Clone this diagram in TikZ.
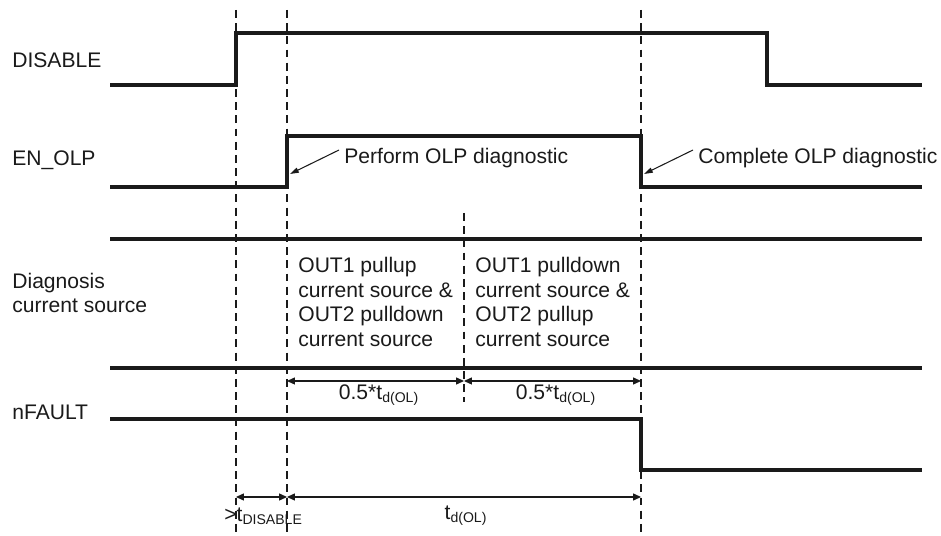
\documentclass[tikz,border=0pt]{standalone}
\usepackage{fontspec}
\setmainfont{Liberation Sans}
\usetikzlibrary{arrows.meta}
\definecolor{traceink}{HTML}{1A1A1A}

\begin{document}
\begin{tikzpicture}[
  x=0.02cm,
  y=-0.02cm,
  every node/.style={font=\fontsize{12}{14}\selectfont, traceink, inner sep=0pt},
  wave/.style={traceink, line width=2.1pt, line join=miter},
  marker/.style={traceink, line width=0.6pt, dash pattern=on 4.5pt off 3pt},
  dim/.style={traceink, line width=0.6pt,
              {Triangle[length=4.5pt,width=4pt]}-{Triangle[length=4.5pt,width=4pt]}},
  callout/.style={traceink, line width=0.6pt, -{Triangle[length=5pt,width=3pt]}},
  siglabel/.style={anchor=west, align=left},
  phase/.style={anchor=west, align=left}
]
  \useasboundingbox (0,0) rectangle (941,536);

  % ---- time markers ----
  \draw[marker] (236,10) -- (236,536);
  \draw[marker] (287,10) -- (287,536);
  \draw[marker] (641,10) -- (641,536);
  \draw[marker] (464,213) -- (464,402);

  % ---- signal names ----
  \node[siglabel] (disable) at (12,60)  {DISABLE};
  \node[siglabel] (enolp)   at (12,160) {EN\_OLP};
  \node[siglabel] (diag)    at (12,293) {Diagnosis\\current source};
  \node[siglabel] (nfault)  at (12,412) {nFAULT};

  % ---- waveforms ----
  \draw[wave] (110,85) -- (236,85) -- (236,33) -- (767,33) -- (767,85) -- (922,85);
  \draw[wave] (110,187) -- (287,187) -- (287,136) -- (641,136) -- (641,187) -- (922,187);
  \draw[wave] (110,239) -- (922,239);
  \draw[wave] (110,368) -- (922,368);
  \draw[wave] (110,419) -- (641,419) -- (641,470) -- (922,470);

  % ---- phases of the current source ----
  \node[phase] (phaseup)   at (298,302)
    {OUT1 pullup\\current source \&\\OUT2 pulldown\\current source};
  \node[phase] (phasedown) at (475,302)
    {OUT1 pulldown\\current source \&\\OUT2 pullup\\current source};

  % ---- callouts ----
  \node[anchor=west] (perform)  at (344,158) {Perform OLP diagnostic};
  \node[anchor=west] (complete) at (698,158) {Complete OLP diagnostic};
  \coordinate (performtail)  at (339,150);
  \coordinate (performtip)   at (290,174);
  \coordinate (completetail) at (693,150);
  \coordinate (completetip)  at (644,174);
  \draw[callout] (performtail) -- (performtip);
  \draw[callout] (completetail) -- (completetip);

  % ---- timing dimensions ----
  \coordinate (halfA) at (287,381);
  \coordinate (halfM) at (464,381);
  \coordinate (halfB) at (641,381);
  \draw[dim] (halfA) -- (halfM);
  \draw[dim] (halfM) -- (halfB);
  \node (halfone) at (379,395) {0.5*t\textsubscript{d(OL)}};
  \node (halftwo) at (556,395) {0.5*t\textsubscript{d(OL)}};

  \coordinate (waitA) at (236,497);
  \coordinate (waitB) at (287,497);
  \coordinate (waitC) at (641,497);
  \draw[dim] (waitA) -- (waitB);
  \draw[dim] (waitB) -- (waitC);
  \node[anchor=west] (tdisable) at (224,516) {>t\textsubscript{DISABLE}};
  \node (tdol) at (466,516) {t\textsubscript{d(OL)}};
\end{tikzpicture}
\end{document}
